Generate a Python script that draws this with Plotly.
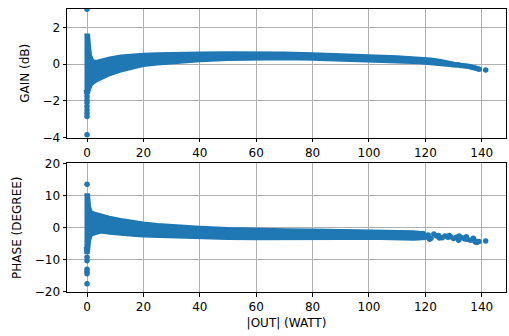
import plotly.graph_objects as go
from plotly.subplots import make_subplots

# ---------------- data ----------------
# Dense scatter bands are summarised by their outer envelopes.
gain_hi_x = [-0.9, 0.8, 1.1, 1.5, 2.0, 2.5, 3.5, 5, 8, 12, 16, 20, 25, 30, 40, 50, 60, 70, 80, 90, 100, 110, 118, 122, 126, 130]
gain_hi_y = [1.62, 1.62, 1.1, 0.5, 0.3, 0.2, 0.2, 0.27, 0.38, 0.48, 0.55, 0.58, 0.6, 0.62, 0.65, 0.66, 0.66, 0.64, 0.6, 0.56, 0.5, 0.44, 0.38, 0.32, 0.22, 0.1]
gain_lo_x = [-0.9, -0.8, 0.8, 1.2, 1.8, 2.5, 3.5, 5, 8, 12, 16, 20, 25, 30, 40, 50, 60, 70, 80, 90, 100, 110, 118, 122, 126, 130]
gain_lo_y = [-1.4, -1.6, -1.6, -1.35, -1.15, -1.05, -0.95, -0.82, -0.62, -0.42, -0.27, -0.12, -0.03, 0.04, 0.14, 0.21, 0.24, 0.25, 0.23, 0.2, 0.14, 0.08, 0.03, -0.02, -0.08, -0.14]

gain_pts_x = [0, 0, 0, 0, 0, 0, 0, 0, 0,
              129.5, 130.5, 131, 131.7, 132.4, 133, 133.6, 134.3, 135, 135.6, 136.2, 136.8, 137.4, 138, 138.6, 139.1, 141.4]
gain_pts_y = [2.98, -1.75, -1.95, -2.1, -2.3, -2.5, -2.68, -2.85, -3.85,
              -0.02, -0.03, -0.05, -0.04, -0.07, -0.08, -0.09, -0.1, -0.12, -0.13, -0.16, -0.18, -0.2, -0.23, -0.25, -0.28, -0.32]

phase_hi_x = [-0.9, 0.8, 1.2, 1.6, 2.5, 4, 6, 8, 12, 16, 20, 25, 30, 40, 50, 60, 70, 80, 90, 100, 110, 116, 120]
phase_hi_y = [10.5, 10.5, 6.5, 5.2, 4.8, 4.4, 4.0, 3.5, 2.8, 2.2, 1.7, 1.2, 0.9, 0.4, 0.0, -0.3, -0.4, -0.5, -0.6, -0.8, -0.8, -1.0, -1.5]
phase_lo_x = [-0.9, -0.7, 0.7, 1.2, 1.8, 3, 5, 8, 12, 16, 20, 25, 30, 40, 50, 60, 70, 80, 90, 100, 110, 116, 120]
phase_lo_y = [-6.0, -8.0, -8.0, -4.0, -2.4, -2.0, -1.6, -2.0, -2.4, -2.6, -2.8, -3.0, -3.1, -3.4, -3.6, -3.7, -3.7, -3.7, -3.6, -3.5, -3.6, -3.8, -3.6]

phase_pts_x = [0, 0, 0, 0, 0, 0, 0,
               119, 120, 121, 121.5, 122, 123, 124, 124.7, 125, 126, 127, 128, 128.5, 129, 130, 131, 131.8, 132, 133, 134,
               134.5, 135, 136, 137, 137.6, 138, 138.2, 139, 141.4]
phase_pts_y = [13.5, -9.2, -10.3, -12.9, -13.6, -14.3, -17.4,
               -1.8, -3.0, -2.3, -3.6, -3.3, -2.0, -2.6, -2.4, -3.2, -3.1, -2.6, -3.0, -2.4, -2.8, -3.4, -3.0, -3.9, -2.6, -3.1, -3.5,
               -2.8, -3.7, -3.9, -3.3, -4.4, -4.2, -4.6, -4.3, -4.1]

x_ticks = [0, 20, 40, 60, 80, 100, 120, 140]
gain_ticks = [-4, -2, 0, 2]
phase_ticks = [-20, -10, 0, 10, 20]

# ---------------- figure ----------------
C = "#1f77b4"
FONT = "DejaVu Sans"
FS = 12

fig = make_subplots(rows=2, cols=1, vertical_spacing=0.0)


def band(hx, hy, lx, ly, row):
    fig.add_trace(go.Scatter(
        x=list(hx) + list(reversed(lx)),
        y=list(hy) + list(reversed(ly)),
        fill="toself", fillcolor=C, mode="lines",
        line=dict(color=C, width=1.5), hoverinfo="skip", showlegend=False),
        row=row, col=1)


def pts(x, y, row):
    fig.add_trace(go.Scatter(
        x=x, y=y, mode="markers",
        marker=dict(color=C, size=5.5, line=dict(width=0)),
        showlegend=False, cliponaxis=True), row=row, col=1)


band(gain_hi_x, gain_hi_y, gain_lo_x, gain_lo_y, 1)
pts(gain_pts_x, gain_pts_y, 1)
band(phase_hi_x, phase_hi_y, phase_lo_x, phase_lo_y, 2)
pts(phase_pts_x, phase_pts_y, 2)

axis_common = dict(
    showline=True, linecolor="black", linewidth=1, mirror=True,
    ticks="outside", ticklen=3.5, tickwidth=0.8, tickcolor="black",
    showgrid=True, gridcolor="#b0b0b0", gridwidth=0.8,
    zeroline=False, tickfont=dict(family=FONT, size=FS, color="black"),
)

fig.update_xaxes(range=[-7.1, 148.6], tickvals=x_ticks, **axis_common)
fig.update_xaxes(title=dict(text="|OUT| (WATT)", font=dict(family=FONT, size=FS, color="black"), standoff=5),
                 row=2, col=1)
fig.update_yaxes(range=[-4, 3], tickvals=gain_ticks, row=1, col=1, **axis_common,
                 title=dict(text="GAIN (dB)", font=dict(family=FONT, size=FS, color="black"), standoff=10))
fig.update_yaxes(range=[-20, 20], tickvals=phase_ticks, row=2, col=1, **axis_common,
                 title=dict(text="PHASE (DEGREE)", font=dict(family=FONT, size=FS, color="black"), standoff=10))

fig.update_layout(
    width=509, height=336,
    margin=dict(l=67, r=2, t=6, b=44),
    paper_bgcolor="white", plot_bgcolor="white",
    font=dict(family=FONT, size=FS, color="black"),
    yaxis=dict(domain=[0.5455, 1.0]),
    yaxis2=dict(domain=[0.0, 0.4545]),
    showlegend=False,
)

fig.write_html("out.html")
